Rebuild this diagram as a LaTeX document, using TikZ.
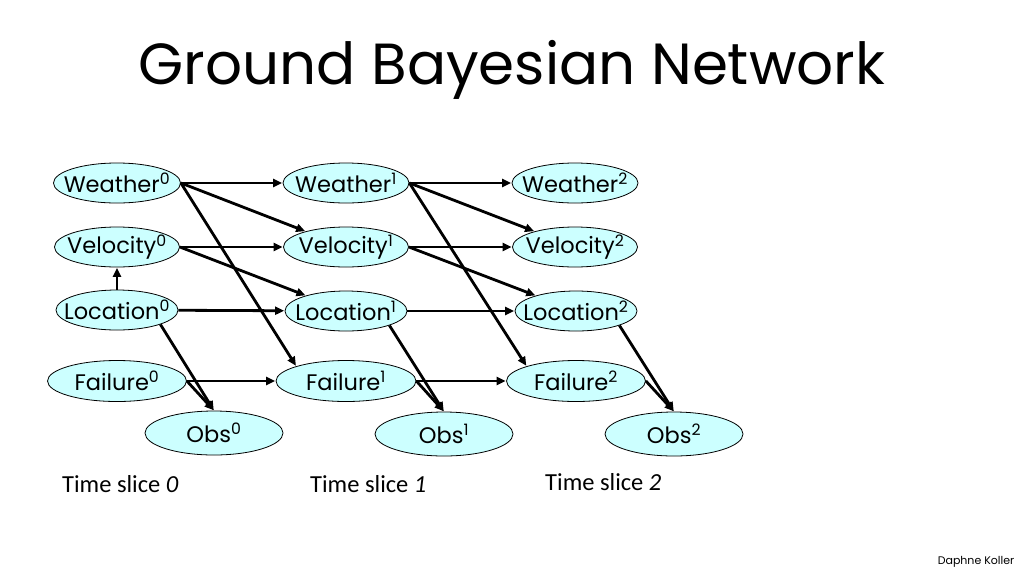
\documentclass[tikz,border=0pt]{standalone}
\usepackage{fontspec}
\setmainfont{Carlito}
\newfontfamily\comicfont{Poppins}
\usetikzlibrary{shapes.geometric,arrows.meta}
\definecolor{nodefill}{HTML}{CCFFFF}
\tikzset{
  ell/.style={ellipse, draw=black, line width=0.8pt, fill=nodefill, inner sep=0pt, minimum height=40pt},
  lbl/.style={font=\comicfont\fontsize{22.5}{26}\selectfont, inner sep=0pt},
  arr/.style={line width=2.8pt, -{Triangle[length=9pt,width=8pt]}, shorten >=0.5pt},
  slice/.style={font=\fontsize{24.5}{28}\selectfont, anchor=west, inner sep=0pt}
}
\begin{document}
\begin{tikzpicture}[x=1pt,y=-1pt]
\useasboundingbox (0,0) rectangle (1024,576);
\node[font=\comicfont\fontsize{58}{66}\selectfont] (title) at (512,70) {Ground Bayesian Network};

% time slice 0
\node[ell, minimum width=127pt, label={[lbl]center:Weather\textsuperscript{0}}] (w0) at (117,183) {};
\node[ell, minimum width=125pt, label={[lbl]center:Velocity\textsuperscript{0}}] (v0) at (117,247) {};
\node[ell, minimum width=122pt, label={[lbl]center:Location\textsuperscript{0}}] (l0) at (117,310) {};
\node[ell, minimum width=139pt, minimum height=41pt, label={[lbl]center:Failure\textsuperscript{0}}] (f0) at (117,381) {};
\node[ell, minimum width=138pt, minimum height=44pt, label={[lbl]center:Obs\textsuperscript{0}}] (o0) at (214,433) {};
% time slice 1
\node[ell, minimum width=126pt, label={[lbl]center:Weather\textsuperscript{1}}] (w1) at (346,183) {};
\node[ell, minimum width=125pt, label={[lbl]center:Velocity\textsuperscript{1}}] (v1) at (346,247) {};
\node[ell, minimum width=122pt, label={[lbl]center:Location\textsuperscript{1}}] (l1) at (346,311) {};
\node[ell, minimum width=140pt, minimum height=41pt, label={[lbl]center:Failure\textsuperscript{1}}] (f1) at (346,381) {};
\node[ell, minimum width=138pt, minimum height=44pt, label={[lbl]center:Obs\textsuperscript{1}}] (o1) at (444,434) {};
% time slice 2
\node[ell, minimum width=126pt, label={[lbl]center:Weather\textsuperscript{2}}] (w2) at (575,183) {};
\node[ell, minimum width=125pt, label={[lbl]center:Velocity\textsuperscript{2}}] (v2) at (575,247) {};
\node[ell, minimum width=122pt, label={[lbl]center:Location\textsuperscript{2}}] (l2) at (576,311) {};
\node[ell, minimum width=139pt, minimum height=41pt, label={[lbl]center:Failure\textsuperscript{2}}] (f2) at (576,381) {};
\node[ell, minimum width=138pt, minimum height=44pt, label={[lbl]center:Obs\textsuperscript{2}}] (o2) at (674,434) {};

% edges
\draw[arr] (w0) -- (w1);
\draw[arr] (w0.east) -- (v1);
\draw[arr] (w0.east) -- (f1.north west);
\draw[arr] (v0) -- (v1);
\draw[arr] (v0.east) -- (l1);
\draw[arr] (l0) -- (l1);
\draw[arr] (f0) -- (f1);
\draw[arr] (l0) -- (v0);
\draw[arr] (l0.south east) -- (o0.north);
\draw[arr] (f0.east) -- (o0.north);

\draw[arr] (w1) -- (w2);
\draw[arr] (w1.east) -- (v2);
\draw[arr] (w1.east) -- (f2.north west);
\draw[arr] (v1) -- (v2);
\draw[arr] (v1.east) -- (l2);
\draw[arr] (l1) -- (l2);
\draw[arr] (f1) -- (f2);
\draw[arr] (l1.south east) -- (o1.north);
\draw[arr] (f1.east) -- (o1.north);

\draw[arr] (l2.south east) -- (o2.north);
\draw[arr] (f2.east) -- (o2.north);

% time slice labels
\node[slice] (t0) at (62,484) {Time slice \textit{0}};
\node[slice] (t1) at (310,484) {Time slice \textit{1}};
\node[slice] (t2) at (545,482) {Time slice \textit{2}};

\node[font=\comicfont\fontsize{11}{13}\selectfont] (author) at (976,562) {Daphne Koller};
\end{tikzpicture}
\end{document}
